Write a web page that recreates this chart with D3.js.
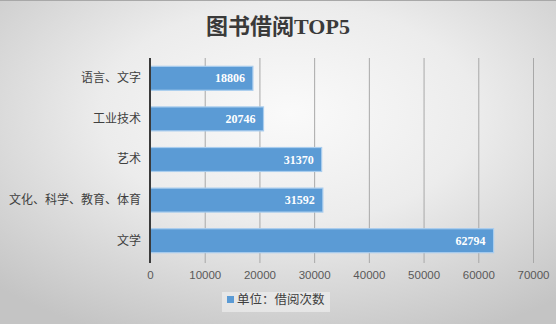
<!DOCTYPE html>
<html><head><meta charset="utf-8">
<script src="https://cdn.jsdelivr.net/npm/d3@7"></script>
<style>html,body{margin:0;padding:0;overflow:hidden;background:#fff}</style>
</head><body>
<script>
const categories = ["语言、文字","工业技术","艺术","文化、科学、教育、体育","文学"];
const values = [18806,20746,31370,31592,62794];
const ticks = [0,10000,20000,30000,40000,50000,60000,70000];
const title = "图书借阅TOP5";
const legendLabel = "单位：借阅次数";

const W=556,H=324;
const svg=d3.select("body").append("svg").attr("width",W).attr("height",H);
const defs=svg.append("defs");
const rg=defs.append("radialGradient").attr("id","bg").attr("cx","52%").attr("cy","35%").attr("r","75%");
rg.append("stop").attr("offset","0%").attr("stop-color","#fafafa");
rg.append("stop").attr("offset","45%").attr("stop-color","#ececec");
rg.append("stop").attr("offset","100%").attr("stop-color","#c4c4c4");
svg.append("rect").attr("width",W).attr("height",H).attr("fill","url(#bg)");
svg.append("line").attr("x1",0).attr("x2",W).attr("y1",0.5).attr("y2",0.5).attr("stroke","#a8a8a8");

const x=d3.scaleLinear().domain([0,70000]).range([150,533]);
const y=d3.scaleBand().domain(categories).range([58,261]).paddingInner(0.41).paddingOuter(0.205);

svg.append("text").attr("x",278).attr("y",34).attr("text-anchor","middle")
  .attr("font-family","'Liberation Serif','Noto Sans CJK SC',serif").attr("font-weight","bold")
  .attr("font-size",22).attr("fill","#3a3a3a").text(title);

// grid
svg.append("g").selectAll("line").data(ticks.slice(1)).join("line")
  .attr("x1",d=>x(d)+0.5).attr("x2",d=>x(d)+0.5).attr("y1",58).attr("y2",263)
  .attr("stroke","#a8a8a8").attr("stroke-width",1);

// bars
svg.append("g").selectAll("rect").data(values).join("rect")
  .attr("x",x(0)).attr("y",(d,i)=>y(categories[i])).attr("width",d=>x(d)-x(0))
  .attr("height",y.bandwidth()).attr("fill","#5b9bd5").attr("stroke","#a9cdee").attr("stroke-width",1.2);

svg.append("g").selectAll("text").data(values).join("text")
  .attr("x",d=>x(d)-8).attr("y",(d,i)=>y(categories[i])+y.bandwidth()/2+4)
  .attr("text-anchor","end").attr("font-family","'Liberation Serif',serif")
  .attr("font-weight","bold").attr("font-size",12).attr("fill","#fff").text(d=>d);

// y axis
const ya=svg.append("g").attr("transform","translate(150,0)").call(d3.axisLeft(y).tickSize(0).tickPadding(9));
ya.select(".domain").attr("stroke","#3a3a3a").attr("stroke-width",2).attr("d","M0,58V263");
ya.selectAll("text").attr("font-family","'Noto Sans CJK SC',sans-serif").attr("font-size",12).attr("fill","#404040");

// x axis labels
const xa=svg.append("g").attr("transform","translate(0,263)").call(d3.axisBottom(x).tickValues(ticks).tickSize(0).tickPadding(8).tickFormat(d3.format("d")));
xa.select(".domain").remove();
xa.selectAll("text").attr("font-family","'Liberation Sans',sans-serif").attr("font-size",11.5).attr("fill","#595959");

// legend
const lg=svg.append("g");
lg.append("rect").attr("x",222).attr("y",292).attr("width",108).attr("height",20).attr("fill","#eeeeee").attr("opacity",0.7);
lg.append("rect").attr("x",227).attr("y",296).attr("width",7).attr("height",7).attr("fill","#5b9bd5");
lg.append("text").attr("x",237).attr("y",304).attr("font-family","'Noto Sans CJK SC',sans-serif")
  .attr("font-size",12.5).attr("fill","#404040").text(legendLabel);
</script>
</body></html>
